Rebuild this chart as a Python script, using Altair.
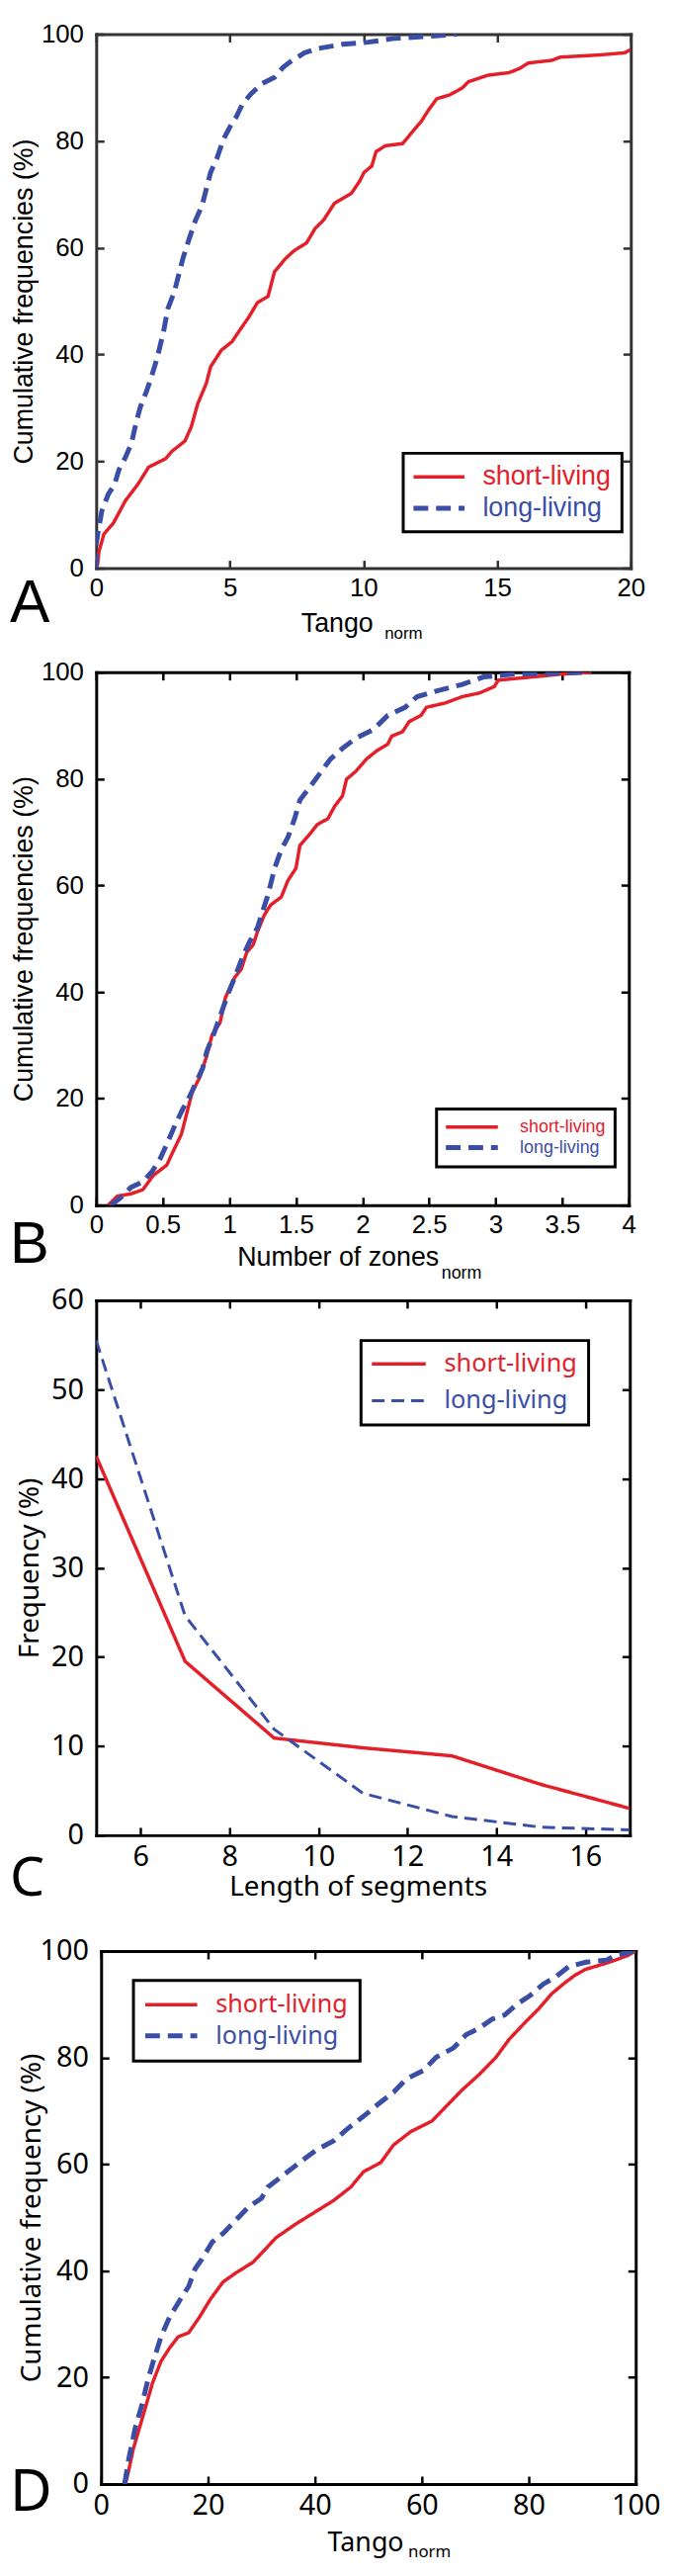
import math
import altair as alt
import pandas as pd

SERIES = ["short-living", "long-living"]
RED = "#e3202a"
BLUE = "#3b4ea6"

# ---------------- Panel A : Tango_norm CDF ----------------
a_short_x = [0.05, 0.1, 0.29, 0.64, 1.09, 1.56, 1.96, 2.6, 2.84, 3.32, 3.56, 3.8, 4.12, 4.28, 4.68,
             5.08, 5.39, 5.71, 6.03, 6.43, 6.67, 7.07, 7.39, 7.87, 8.19, 8.51, 8.91, 9.55, 9.86, 10.02,
             10.31, 10.47, 10.82, 11.46, 11.78, 12.18, 12.42, 12.74, 13.21, 13.69, 13.93, 14.65, 15.45,
             15.85, 16.17, 17.05, 17.36, 18.8, 19.76, 20.0]
a_short_y = [0.5, 3.0, 6.4, 8.4, 12.6, 15.7, 18.9, 20.5, 21.9, 23.8, 26.5, 30.8, 34.6, 37.7, 40.8,
             42.4, 44.7, 47.0, 49.7, 50.9, 55.5, 57.9, 59.4, 60.9, 63.6, 65.2, 68.3, 70.2, 72.5, 74.1,
             75.3, 78.0, 79.1, 79.5, 81.4, 83.8, 85.7, 87.9, 88.6, 89.9, 91.1, 92.3, 92.8,
             93.6, 94.6, 95.1, 95.7, 96.1, 96.5, 97.1]
a_long_x = [0, 0, 0.1, 0.21, 0.45, 0.69, 0.85, 1.09, 1.32, 1.48, 1.64, 1.88, 2.04, 2.28, 2.52, 2.68,
            2.92, 3.08, 3.24, 3.48, 3.72, 3.96, 4.12, 4.28, 4.52, 4.76, 5.0, 5.24, 5.47, 5.79, 6.19,
            6.67, 6.99, 7.31, 7.79, 8.27, 9.22, 10.18, 11.14, 12.42, 13.06, 13.5]
a_long_y = [0, 4.5, 7.6, 10.7, 13.8, 15.7, 18.4, 20.7, 23.4, 26.9, 30.0, 33.1, 35.4, 39.3, 44.3, 48.6,
            51.7, 54.8, 57.9, 61.7, 65.2, 67.9, 71.0, 74.1, 76.8, 80.3, 82.6, 84.5, 86.9, 88.8, 90.7,
            91.9, 93.8, 95.0, 96.5, 97.3, 98.1, 98.5, 99.2, 99.6, 99.8, 100]
a_xticks = [0, 5, 10, 15, 20]
a_yticks = [0, 20, 40, 60, 80, 100]

# ---------------- Panel B : Number of zones_norm CDF ----------------
b_short_x = [0.09, 0.16, 0.26, 0.35, 0.43, 0.53, 0.58, 0.64, 0.68, 0.72, 0.78, 0.83, 0.87, 0.93, 0.97,
             1.04, 1.09, 1.13, 1.18, 1.21, 1.26, 1.31, 1.39, 1.44, 1.50, 1.53, 1.61, 1.66, 1.74, 1.79,
             1.85, 1.88, 1.95, 2.03, 2.11, 2.19, 2.22, 2.30, 2.35, 2.44, 2.48, 2.62, 2.75, 2.88, 2.99,
             3.02, 3.32, 3.48, 3.72]
b_short_y = [0, 1.7, 2.1, 2.9, 5.6, 7.5, 10.2, 13.3, 17.2, 21.1, 24.1, 28.0, 31.9, 34.2, 38.9,
             42.7, 44.3, 47.4, 48.9, 51.2, 54.3, 56.3, 57.8, 60.9, 63.2, 67.5, 69.8, 71.4, 72.5, 74.8,
             76.8, 79.9, 81.4, 83.7, 85.3, 86.5, 88.0, 88.8, 90.7, 91.9, 93.4, 94.2, 95.4, 96.1, 97.3,
             98.5, 99.2, 99.6, 100]
b_long_x = [0.11, 0.18, 0.26, 0.35, 0.42, 0.48, 0.53, 0.59, 0.65, 0.70, 0.75, 0.80, 0.83, 0.88, 0.93,
            0.99, 1.04, 1.10, 1.15, 1.21, 1.25, 1.29, 1.34, 1.39, 1.44, 1.49, 1.53, 1.60, 1.68, 1.76,
            1.85, 1.95, 2.08, 2.19, 2.32, 2.41, 2.56, 2.75, 2.91, 3.13, 3.72]
b_long_y = [0, 1.3, 3.3, 4.4, 6.3, 8.7, 11.4, 14.9, 18.0, 20.3, 23.0, 25.7, 28.8, 31.9, 35.4,
            39.6, 42.7, 46.6, 49.3, 52.0, 55.1, 58.2, 63.2, 66.7, 69.0, 72.5, 76.0, 78.3, 81.0, 83.7,
            85.7, 87.6, 89.2, 91.9, 93.4, 95.4, 96.5, 97.7, 99.1, 99.6, 100]
b_xticks = [0, 0.5, 1, 1.5, 2, 2.5, 3, 3.5, 4]
b_yticks = [0, 20, 40, 60, 80, 100]

# ---------------- Panel C : Length of segments ----------------
c_x = [5, 7, 9, 11, 13, 15, 17]
c_short_y = [42.5, 19.5, 10.9, 9.8, 8.9, 5.7, 3.0]
c_long_y = [55.5, 24.6, 11.9, 4.7, 2.1, 0.9, 0.6]
c_xticks = [6, 8, 10, 12, 14, 16]
c_yticks = [0, 10, 20, 30, 40, 50, 60]

# ---------------- Panel D : Tango_norm CDF (0-100) ----------------
d_short_x = [4.55, 5.2, 6.0, 7.2, 8.4, 9.6, 11.2, 12.8, 14.4, 16.4, 18.4, 20.4, 22.8, 25.2, 28.4,
             30.4, 32.7, 36.3, 39.5, 43.5, 46.7, 49.1, 52.3, 54.7, 57.9, 61.9, 64.3, 67.5, 70.7, 73.9,
             76.3, 79.5, 81.9, 84.3, 86.7, 88.7, 90.7, 93.8, 96.2, 98.6, 100]
d_short_y = [0, 2.7, 6.5, 10.6, 14.7, 18.9, 23.0, 25.5, 27.6, 28.4, 31.3, 34.6, 37.9, 39.6, 41.6,
             43.7, 46.2, 48.7, 50.7, 53.2, 55.7, 58.6, 60.3, 63.6, 66.1, 68.1, 70.6, 73.9, 76.8, 80.1,
             83.4, 86.8, 89.2, 92.0, 94.0, 95.5, 96.6, 97.5, 98.3, 99.2, 100]
d_long_x = [4.4, 5.2, 6.4, 7.6, 8.8, 10.0, 11.2, 12.8, 14.8, 16.4, 17.6, 18.8, 20.8, 22.8, 25.2,
            27.6, 30.0, 31.2, 33.9, 37.1, 40.3, 43.5, 45.9, 49.1, 51.5, 54.7, 57.1, 60.3, 62.7, 65.9,
            68.3, 70.7, 73.1, 75.5, 77.9, 80.3, 82.7, 85.1, 87.5, 90.7, 94.6, 96.2, 100]
d_long_y = [0, 4.8, 10.6, 14.7, 19.7, 23.8, 27.6, 31.3, 34.6, 37.1, 40.4, 42.1, 45.4, 47.0, 49.5,
            52.0, 53.6, 55.7, 57.8, 60.3, 62.7, 64.4, 66.5, 69.0, 71.0, 73.5, 76.0, 77.6, 80.1, 81.8,
            84.3, 85.5, 87.2, 88.0, 90.1, 91.7, 93.8, 95.2, 97.1, 97.9, 98.3, 99.2, 100]
d_xticks = [0, 20, 40, 60, 80, 100]
d_yticks = [0, 20, 40, 60, 80, 100]

ARIAL = "Liberation Sans"
HIRA = "Noto Sans"
TICK = 8
HALF = 5  # half-length of the legend line symbol path, in symbol units


def make_df(sx, sy, lx, ly):
    rows = []
    for i, (x, y) in enumerate(zip(sx, sy)):
        rows.append({"x": x, "y": y, "series": SERIES[0], "order": i})
    for i, (x, y) in enumerate(zip(lx, ly)):
        rows.append({"x": x, "y": y, "series": SERIES[1], "order": i})
    return pd.DataFrame(rows)


def text_layer(txt, x, y, size, font):
    return alt.Chart(pd.DataFrame({"t": [txt]})).mark_text(
        font=font, fontSize=size, align="left", baseline="alphabetic", color="black"
    ).encode(text="t:N", x=alt.value(x), y=alt.value(y))


def panel(df, c):
    xoff, w, h = c["xoff"], c["w"], c["h"]
    font, fc = c["font"], c["frame"]
    xs = alt.Scale(domain=c["xdom"], range=[xoff, xoff + w], nice=False, zero=False)
    ys = alt.Scale(domain=c["ydom"], nice=False, zero=False)

    def dom_axis(orient, **kw):
        return alt.Axis(orient=orient, grid=False, domain=True, domainWidth=3, domainColor=fc,
                        domainCap="square", ticks=False, tickSize=0, title=None, **kw)

    def tick_axis(orient, values, offset):
        return alt.Axis(orient=orient, grid=False, domain=False, labels=False, ticks=True,
                        tickSize=TICK, tickWidth=2.5, tickColor=fc, values=values,
                        offset=offset, title=None)

    x_lab = dom_axis("bottom", values=c["xticks"], labels=True, labelFont=font,
                     labelFontSize=c["lab"], labelColor="black", labelPadding=c["xlp"],
                     labelOverlap=False, labelFlush=False, format=c["xfmt"])
    y_lab = alt.Axis(orient="left", grid=False, domain=True, domainWidth=3, domainColor=fc,
                     domainCap="square", ticks=False, tickSize=0, offset=-xoff,
                     values=c["yticks"], labels=True, labelFont=font, labelFontSize=c["lab"],
                     labelColor="black", labelPadding=13, labelOverlap=False, labelFlush=False,
                     format="d", title=c["ytitle"], titleFont=font, titleFontSize=c["tsize"],
                     titleFontWeight="normal", titleColor="black", titleAngle=270,
                     titleAlign="center", titleBaseline="alphabetic", titleX=c["ytx"],
                     titleY=h / 2)

    # legend: a horizontal line sample of length L drawn with a custom path symbol
    # (a custom path is scaled by sqrt(size)/2, so its length is HALF*sqrt(size))
    L, gap, sw, fs = c["symlen"], c["symgap"], c["symsw"], c["legfs"]
    root = L / float(HALF)
    cw = max(math.ceil(root + sw), fs)
    leg = alt.Legend(orient="none", legendX=c["legx"], legendY=c["legy"], title=None,
                     labelFont=font, labelFontSize=fs,
                     labelColor=alt.ExprRef(expr="datum.label == 'short-living' ? '%s' : '%s'" % (RED, BLUE)),
                     symbolType="M-%d,0H%d" % (HALF, HALF), symbolSize=root * root,
                     symbolStrokeWidth=sw, symbolOffset=L / 2.0 - cw / 2.0,
                     labelOffset=L + gap - cw, padding=c["legpad"], rowPadding=c["legrow"],
                     strokeColor="black", fillColor="white")
    lines = alt.Chart(df).mark_line(clip=True).encode(
        x=alt.X("x:Q", scale=xs, axis=x_lab),
        y=alt.Y("y:Q", scale=ys, axis=y_lab),
        color=alt.Color("series:N", scale=alt.Scale(domain=SERIES, range=[RED, BLUE]), legend=leg),
        strokeDash=alt.StrokeDash("series:N", scale=alt.Scale(domain=SERIES, range=[[1, 0], c["dash"]]), legend=leg),
        strokeWidth=alt.StrokeWidth("series:N", scale=alt.Scale(domain=SERIES, range=c["widths"]), legend=None),
        order=alt.Order("order:Q"),
    )

    def ghost(xa, ya):
        return alt.Chart(df).mark_point(opacity=0, size=0).encode(
            x=alt.X("x:Q", scale=xs, axis=xa), y=alt.Y("y:Q", scale=ys, axis=ya))

    g1 = ghost(tick_axis("bottom", c["xticks"], -TICK), tick_axis("left", c["yticks"], -xoff - TICK))
    g2 = ghost(dom_axis("top", labels=False), dom_axis("right", labels=False))
    g3 = ghost(tick_axis("top", c["xticks"], -TICK), tick_axis("right", c["yticks"], -TICK))

    texts = [text_layer(t, x, y, s, font) for (t, x, y, s) in c["texts"]]
    return alt.layer(lines, g1, g2, g3, *texts).resolve_axis(
        x="independent", y="independent").properties(width=xoff + w, height=h)


def spacer(h):
    return alt.Chart(pd.DataFrame({"v": [0]})).mark_point(opacity=0, size=0).properties(width=1, height=h)


pA = panel(make_df(a_short_x, a_short_y, a_long_x, a_long_y), dict(
    xoff=0, w=545, h=544, font=ARIAL, frame="#333333", xdom=[0, 20], ydom=[0, 100],
    xticks=a_xticks, yticks=a_yticks, xfmt="d", lab=26, xlp=7, tsize=27,
    ytitle="Cumulative frequencies (%)", ytx=-65,
    legx=313, legy=427, legfs=27, symlen=52, symgap=6, symsw=7, legpad=10.5, legrow=4,
    dash=[15, 8], widths=[3.5, 5],
    texts=[("A", -88, 599, 61), ("Tango", 209, 609, 27), ("norm", 294, 616, 17)]))

pB = panel(make_df(b_short_x, b_short_y, b_long_x, b_long_y), dict(
    xoff=0, w=543, h=543, font=ARIAL, frame="black", xdom=[0, 4], ydom=[0, 100],
    xticks=b_xticks, yticks=b_yticks, xfmt=".1~f", lab=26, xlp=7, tsize=27,
    ytitle="Cumulative frequencies (%)", ytx=-65,
    legx=347, legy=445, legfs=18, symlen=53, symgap=5, symsw=6, legpad=9.5, legrow=2,
    dash=[15, 8], widths=[3.5, 5],
    texts=[("B", -88, 602, 60), ("Number of zones", 144, 605, 27), ("norm", 352, 618, 18)]))

pC = panel(make_df(c_x, c_short_y, c_x, c_long_y), dict(
    xoff=0, w=544, h=545, font=HIRA, frame="black", xdom=[5, 17], ydom=[0, 60],
    xticks=c_xticks, yticks=c_yticks, xfmt="d", lab=29, xlp=8, tsize=28,
    ytitle="Frequency (%)", ytx=-59,
    legx=270, legy=41, legfs=25.5, symlen=55, symgap=4, symsw=7, legpad=11, legrow=10.5,
    dash=[13, 7], widths=[3.5, 3],
    texts=[("C", -88, 607, 56), ("Length of segments", 136, 607, 28)]))

pD = panel(make_df(d_short_x, d_short_y, d_long_x, d_long_y), dict(
    xoff=5, w=545, h=543, font=HIRA, frame="black", xdom=[0, 100], ydom=[0, 100],
    xticks=d_xticks, yticks=d_yticks, xfmt="d", lab=29, xlp=8, tsize=28,
    ytitle="Cumulative frequency (%)", ytx=-62,
    legx=38, legy=30, legfs=25.3, symlen=53, symgap=5, symsw=7, legpad=12, legrow=5.7,
    dash=[15, 8], widths=[3.5, 5],
    texts=[("D", -88, 570, 59), ("Tango", 236, 612, 27), ("norm", 318, 618, 17)]))

chart = alt.vconcat(
    pA, spacer(106), pB, spacer(97), pC, spacer(118), pD, spacing=0, bounds="flush"
).resolve_scale(
    color="independent", strokeDash="independent", strokeWidth="independent"
).configure_view(stroke="transparent").configure_legend(strokeWidth=3).properties(
    padding={"left": 1, "top": 3, "right": 5, "bottom": 5}
)

chart.save("out.html", embed_options={"renderer": "svg", "actions": False})
